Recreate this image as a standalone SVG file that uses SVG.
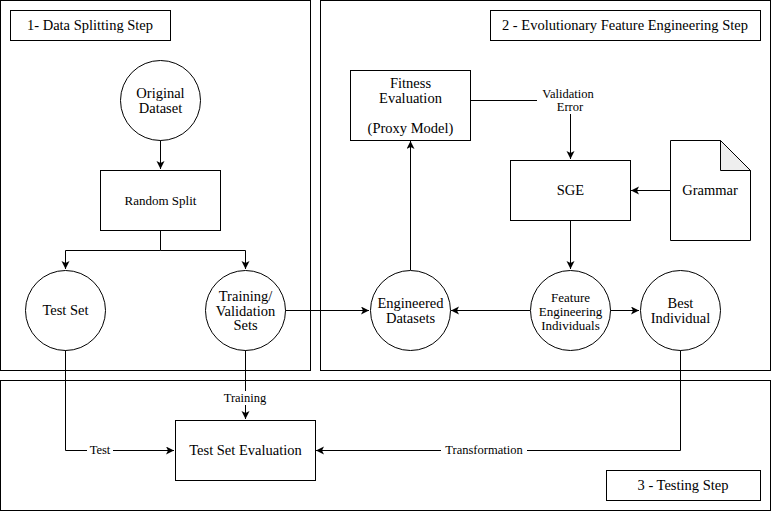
<svg xmlns="http://www.w3.org/2000/svg" width="771" height="511" viewBox="0 0 771 511">
<defs>
  <marker id="arr" markerWidth="10" markerHeight="10" refX="8" refY="4" orient="auto" markerUnits="userSpaceOnUse">
    <path d="M0,0 L8,4 L0,8 L2,4 Z" fill="#000"/>
  </marker>
</defs>
<rect width="771" height="511" fill="#fff"/>

<g id="panels" fill="none" stroke="#000" stroke-width="1">
  <rect x="0.5" y="0.5" width="310" height="370"/>
  <rect x="320.5" y="0.5" width="450" height="370"/>
  <rect x="0.5" y="380.5" width="770" height="130"/>
</g>

<g id="connectors" fill="none" stroke="#000" stroke-width="1">
  <path d="M160.5,140 V169" marker-end="url(#arr)"/>
  <path d="M160.5,230 V250.5 H65.5 V269" marker-end="url(#arr)"/>
  <path d="M160.5,250.5 H245.5 V269" marker-end="url(#arr)"/>
  <path d="M285,310.5 H369" marker-end="url(#arr)"/>
  <path d="M530,310.5 H451" marker-end="url(#arr)"/>
  <path d="M610,310.5 H639" marker-end="url(#arr)"/>
  <path d="M410.5,270 V141" marker-end="url(#arr)"/>
  <path d="M470,100.5 H537"/>
  <path d="M570.5,114 V159" marker-end="url(#arr)"/>
  <path d="M670,190.5 H631" marker-end="url(#arr)"/>
  <path d="M570.5,220 V269" marker-end="url(#arr)"/>
  <path d="M65.5,350 V450.5 H174" marker-end="url(#arr)"/>
  <path d="M245.5,350 V419" marker-end="url(#arr)"/>
  <path d="M680.5,350 V450.5 H316" marker-end="url(#arr)"/>
  <rect x="87" y="443" width="26" height="14" fill="#fff" stroke="none"/>
  <rect x="221" y="391" width="48" height="14" fill="#fff" stroke="none"/>
  <rect x="441" y="443" width="86" height="14" fill="#fff" stroke="none"/>
</g>
<g id="connectorLabels">
  <text x="100" y="454" font-family="Liberation Serif" font-size="12.5" text-anchor="middle">Test</text>
  <text x="245" y="402" font-family="Liberation Serif" font-size="12.5" text-anchor="middle">Training</text>
  <text x="484" y="453.5" font-family="Liberation Serif" font-size="12.5" text-anchor="middle">Transformation</text>
  <text x="568" y="98" font-family="Liberation Serif" font-size="12.5" text-anchor="middle">Validation</text>
  <text x="570" y="111" font-family="Liberation Serif" font-size="12.5" text-anchor="middle">Error</text>
</g>

<g id="title1"><rect x="10.5" y="10.5" width="160" height="30" fill="#fff" stroke="#000"/><text x="90" y="30" font-family="Liberation Serif" font-size="14.5" text-anchor="middle">1- Data Splitting Step</text></g>
<g id="title2"><rect x="490.5" y="10.5" width="270" height="30" fill="#fff" stroke="#000"/><text x="625" y="30" font-family="Liberation Serif" font-size="14.5" text-anchor="middle">2 - Evolutionary Feature Engineering Step</text></g>
<g id="title3"><rect x="606.5" y="470.5" width="154" height="30" fill="#fff" stroke="#000"/><text x="683" y="490" font-family="Liberation Serif" font-size="14.5" text-anchor="middle">3 - Testing Step</text></g>

<g id="original"><circle cx="160.5" cy="100.5" r="40" fill="#fff" stroke="#000"/><text x="160.5" y="98" font-family="Liberation Serif" font-size="14.5" text-anchor="middle">Original</text><text x="160.5" y="112.5" font-family="Liberation Serif" font-size="14.5" text-anchor="middle">Dataset</text></g>
<g id="randomSplit"><rect x="100.5" y="170.5" width="120" height="60" fill="#fff" stroke="#000"/><text x="160.5" y="205" font-family="Liberation Serif" font-size="13" text-anchor="middle">Random Split</text></g>
<g id="testSet"><circle cx="65.5" cy="310.5" r="40" fill="#fff" stroke="#000"/><text x="65.5" y="315" font-family="Liberation Serif" font-size="14.5" text-anchor="middle">Test Set</text></g>
<g id="trainVal"><circle cx="245.5" cy="310.5" r="40" fill="#fff" stroke="#000"/><text x="245.5" y="300.5" font-family="Liberation Serif" font-size="14.5" text-anchor="middle">Training/</text><text x="245.5" y="315.5" font-family="Liberation Serif" font-size="14.5" text-anchor="middle">Validation</text><text x="245.5" y="330" font-family="Liberation Serif" font-size="14.5" text-anchor="middle">Sets</text></g>
<g id="fitness"><rect x="350.5" y="70.5" width="120" height="70" fill="#fff" stroke="#000"/><text x="410.5" y="88" font-family="Liberation Serif" font-size="14.5" text-anchor="middle">Fitness</text><text x="410.5" y="103" font-family="Liberation Serif" font-size="14.5" text-anchor="middle">Evaluation</text><text x="410.5" y="132.5" font-family="Liberation Serif" font-size="14.5" text-anchor="middle">(Proxy Model)</text></g>
<g id="sge"><rect x="510.5" y="160.5" width="120" height="60" fill="#fff" stroke="#000"/><text x="570.5" y="195" font-family="Liberation Serif" font-size="14.5" text-anchor="middle">SGE</text></g>
<g id="grammar"><path d="M670.5,140.5 H720.5 L750.5,170.5 V240.5 H670.5 Z" fill="#fff" stroke="#000"/><path d="M720.5,140.5 V170.5 H750.5 Z" fill="#eeeeee" stroke="#000"/><text x="710" y="195" font-family="Liberation Serif" font-size="14.5" text-anchor="middle">Grammar</text></g>
<g id="engineered"><circle cx="410.5" cy="310.5" r="40" fill="#fff" stroke="#000"/><text x="410.5" y="308" font-family="Liberation Serif" font-size="14.5" text-anchor="middle">Engineered</text><text x="410.5" y="323" font-family="Liberation Serif" font-size="14.5" text-anchor="middle">Datasets</text></g>
<g id="feIndividuals"><circle cx="570.5" cy="310.5" r="40" fill="#fff" stroke="#000"/><text x="570.5" y="301.5" font-family="Liberation Serif" font-size="13" text-anchor="middle">Feature</text><text x="570.5" y="315.5" font-family="Liberation Serif" font-size="13" text-anchor="middle">Engineering</text><text x="570.5" y="329.5" font-family="Liberation Serif" font-size="13" text-anchor="middle">Individuals</text></g>
<g id="best"><circle cx="680.5" cy="310.5" r="40" fill="#fff" stroke="#000"/><text x="680.5" y="308" font-family="Liberation Serif" font-size="14.5" text-anchor="middle">Best</text><text x="680.5" y="323" font-family="Liberation Serif" font-size="14.5" text-anchor="middle">Individual</text></g>
<g id="testEval"><rect x="175.5" y="420.5" width="140" height="60" fill="#fff" stroke="#000"/><text x="245.5" y="455" font-family="Liberation Serif" font-size="14.5" text-anchor="middle">Test Set Evaluation</text></g>
</svg>
